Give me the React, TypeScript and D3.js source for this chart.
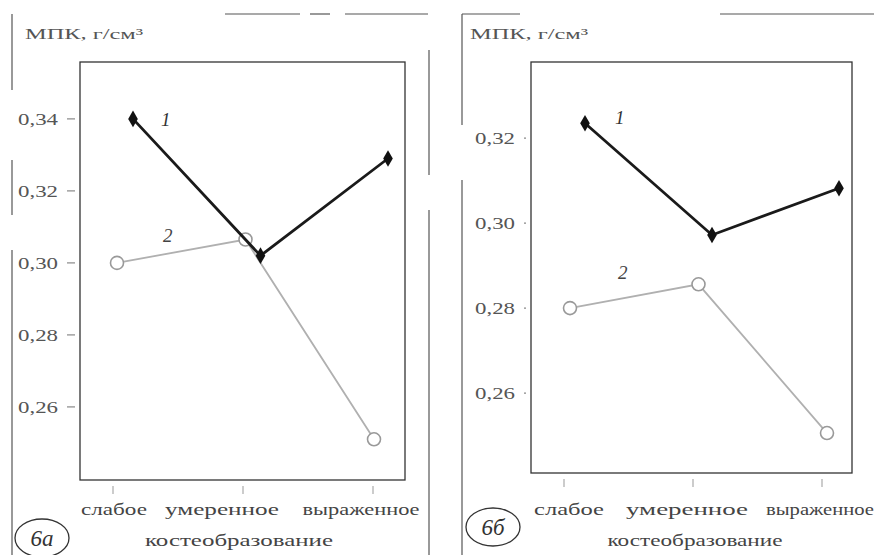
import React, { useEffect, useRef } from "react";
import * as d3 from "d3";

// categories (x axis)
const categories = ["слабое", "умеренное", "выраженное"];

// panel 6а values
const panelA_s1 = [0.34, 0.302, 0.329];
const panelA_s2 = [0.3, 0.3065, 0.251];
const panelA_ticks = [0.34, 0.32, 0.3, 0.28, 0.26];

// panel 6б values
const panelB_s1 = [0.3235, 0.2972, 0.3082];
const panelB_s2 = [0.28, 0.2856, 0.2506];
const panelB_ticks = [0.32, 0.3, 0.28, 0.26];

const yLabel = "МПК, г/см³";
const xTitle = "костеобразование";

const FONT = "'Liberation Serif', 'DejaVu Serif', serif";

type Panel = {
  tag: string;
  s1: number[];
  s2: number[];
  ticks: number[];
  left: number; right: number; top: number; bottom: number;
  domain: [number, number];
  catRange: [number, number];
  s1Range: [number, number];
  s2Range: [number, number];
  labelX: number;
  tickGap: number;
  catLabelX: number[];
  catLabelW: number[];
  titleX: number; titleW: number;
  tagX: number; tagY: number;
  n1: [number, number]; n2: [number, number];
};

const panels: Panel[] = [
  {
    tag: "6а", s1: panelA_s1, s2: panelA_s2, ticks: panelA_ticks,
    left: 80, right: 405, top: 62, bottom: 480,
    domain: [0.2397, 0.3558],
    catRange: [113, 373], s1Range: [133, 388], s2Range: [117, 374],
    labelX: 25, tickGap: 22,
    catLabelX: [114, 222, 361], catLabelW: [66, 114, 117],
    titleX: 239, titleW: 188, tagX: 42, tagY: 538,
    n1: [161, 126], n2: [163, 242],
  },
  {
    tag: "6б", s1: panelB_s1, s2: panelB_s2, ticks: panelB_ticks,
    left: 531, right: 852, top: 62, bottom: 473,
    domain: [0.2412, 0.3379],
    catRange: [564, 822], s1Range: [585, 839], s2Range: [570, 827],
    labelX: 470, tickGap: 16,
    catLabelX: [569, 687, 820], catLabelW: [70, 122, 108],
    titleX: 695, titleW: 175, tagX: 493, tagY: 527,
    n1: [615, 124], n2: [618, 279],
  },
];

export default function App() {
  const ref = useRef<SVGSVGElement>(null);

  useEffect(() => {
    const svg = d3.select(ref.current);
    svg.selectAll("*").remove();

    // scan page edges
    const edges = svg.append("g").attr("stroke", "#555").attr("stroke-width", 1.2);
    const segs = [
      [12, 14, 12, 90], [12, 160, 12, 215], [12, 250, 12, 555],
      [225, 14, 300, 14], [310, 14, 330, 14], [345, 14, 428, 14],
      [429, 50, 429, 175], [429, 210, 429, 555],
      [462, 14, 462, 125], [462, 180, 462, 555], [462, 14, 520, 14],
      [720, 14, 874, 14],
    ];
    segs.forEach(s => {
      edges.append("line").attr("x1", s[0]).attr("y1", s[1]).attr("x2", s[2]).attr("y2", s[3]);
    });

    panels.forEach(p => {
      const g = svg.append("g");
      const y = d3.scaleLinear().domain(p.domain).range([p.bottom, p.top]);
      const xc = d3.scalePoint<string>().domain(categories).range(p.catRange);
      const x1 = d3.scalePoint<string>().domain(categories).range(p.s1Range);
      const x2 = d3.scalePoint<string>().domain(categories).range(p.s2Range);

      // frame
      g.append("rect")
        .attr("x", p.left).attr("y", p.top)
        .attr("width", p.right - p.left).attr("height", p.bottom - p.top)
        .attr("fill", "none").attr("stroke", "#333").attr("stroke-width", 1.3);

      // y label
      g.append("text").attr("x", p.labelX).attr("y", 39)
        .attr("textLength", 118).attr("lengthAdjust", "spacingAndGlyphs")
        .attr("font-family", FONT).attr("font-size", 15).attr("fill", "#555")
        .text(yLabel);

      // y ticks
      p.ticks.forEach(t => {
        g.append("text").attr("x", p.left - p.tickGap).attr("y", y(t) + 6)
          .attr("text-anchor", "end")
          .attr("textLength", 40).attr("lengthAdjust", "spacingAndGlyphs")
          .attr("font-family", FONT).attr("font-size", 17).attr("fill", "#555")
          .text(d3.format(".2f")(t).replace(".", ","));
        g.append("line")
          .attr("x1", p.left - p.tickGap + 9).attr("x2", p.left - 5)
          .attr("y1", y(t)).attr("y2", y(t))
          .attr("stroke", "#888").attr("stroke-width", 1.2);
      });

      // x ticks
      categories.forEach((c, i) => {
        g.append("line")
          .attr("x1", xc(c)!).attr("x2", xc(c)!)
          .attr("y1", p.bottom + 6).attr("y2", p.bottom + 14)
          .attr("stroke", "#bbb").attr("stroke-width", 1.5);
        g.append("text").attr("x", p.catLabelX[i]).attr("y", 515)
          .attr("text-anchor", "middle")
          .attr("textLength", p.catLabelW[i]).attr("lengthAdjust", "spacingAndGlyphs")
          .attr("font-family", FONT).attr("font-size", 17).attr("fill", "#444")
          .text(c);
      });
      g.append("text").attr("x", p.titleX).attr("y", 546)
        .attr("text-anchor", "middle")
        .attr("textLength", p.titleW).attr("lengthAdjust", "spacingAndGlyphs")
        .attr("font-family", FONT).attr("font-size", 17).attr("fill", "#444")
        .text(xTitle);

      // series 2 (grey, open circles)
      const line2 = d3.line<number>()
        .x((_, i) => x2(categories[i])!)
        .y(d => y(d));
      g.append("path").datum(p.s2).attr("d", line2)
        .attr("fill", "none").attr("stroke", "#b0b0b0").attr("stroke-width", 1.8);
      g.selectAll(".c2").data(p.s2).enter().append("circle")
        .attr("cx", (_, i) => x2(categories[i])!).attr("cy", d => y(d))
        .attr("r", 6.5).attr("fill", "#fff")
        .attr("stroke", "#999").attr("stroke-width", 1.6);

      // series 1 (black, filled)
      const line1 = d3.line<number>()
        .x((_, i) => x1(categories[i])!)
        .y(d => y(d));
      g.append("path").datum(p.s1).attr("d", line1)
        .attr("fill", "none").attr("stroke", "#1a1a1a").attr("stroke-width", 2.8);
      g.selectAll(".c1").data(p.s1).enter().append("path")
        .attr("d", d3.symbol().type(d3.symbolDiamond).size(80)()!)
        .attr("transform", (d, i) => `translate(${x1(categories[i])},${y(d)})`)
        .attr("fill", "#111");

      // series numbers
      g.append("text").attr("x", p.n1[0]).attr("y", p.n1[1])
        .attr("font-family", FONT).attr("font-style", "italic").attr("font-size", 19).attr("fill", "#333")
        .text("1");
      g.append("text").attr("x", p.n2[0]).attr("y", p.n2[1])
        .attr("font-family", FONT).attr("font-style", "italic").attr("font-size", 19).attr("fill", "#444")
        .text("2");

      // panel tag
      g.append("ellipse").attr("cx", p.tagX).attr("cy", p.tagY)
        .attr("rx", 27).attr("ry", 19)
        .attr("fill", "none").attr("stroke", "#333").attr("stroke-width", 1.3);
      g.append("text").attr("x", p.tagX).attr("y", p.tagY + 8)
        .attr("text-anchor", "middle")
        .attr("font-family", FONT).attr("font-style", "italic").attr("font-size", 23).attr("fill", "#333")
        .text(p.tag);
    });
  }, []);

  return (
    <svg ref={ref} width={874} height={555}
      style={{ position: "absolute", left: 0, top: 0, background: "#fff" }} />
  );
}
